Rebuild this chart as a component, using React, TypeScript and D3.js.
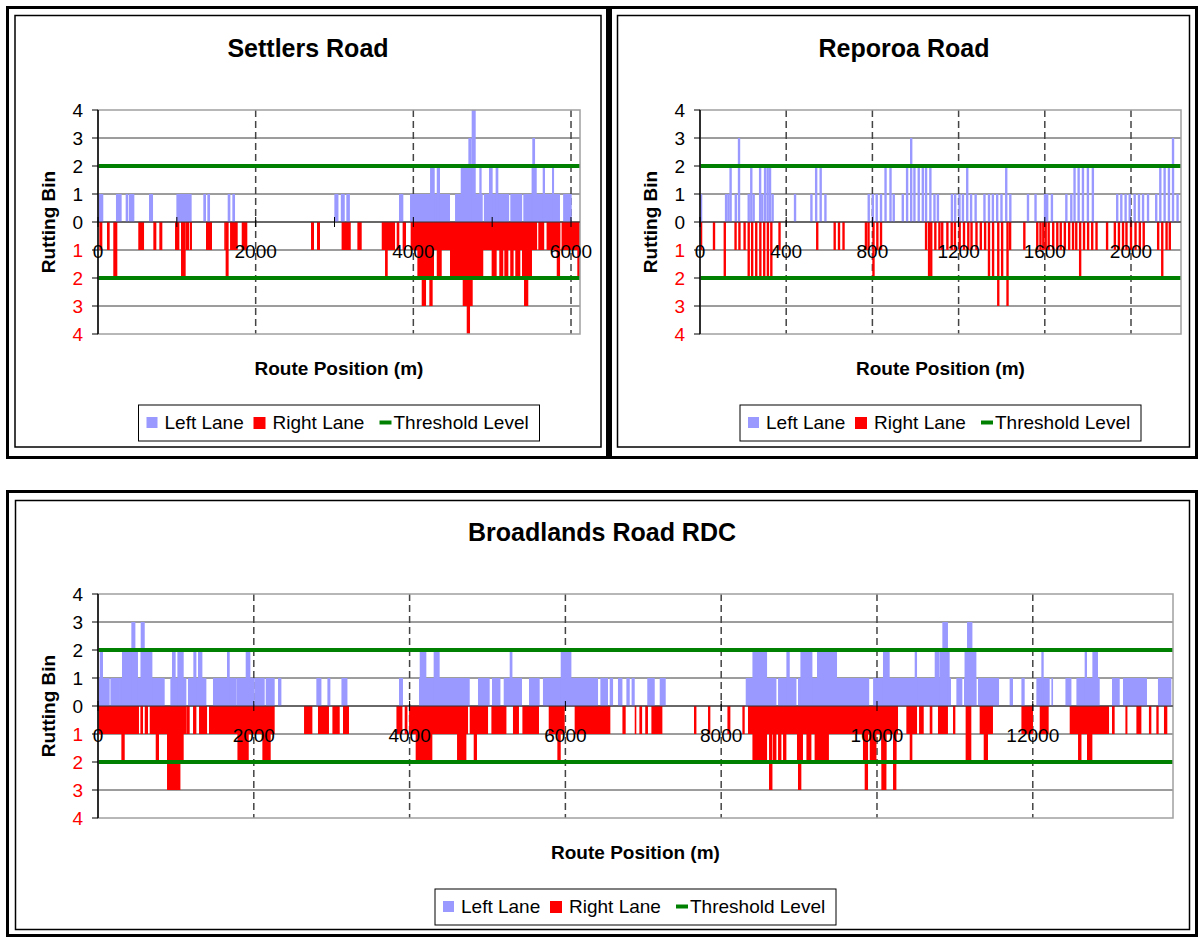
import React from 'react';
import * as d3 from 'd3';

type Run = [number, number, number]; // [from m, to m, rutting bin]
type Bar = [number, number]; // [position m, rutting bin]

// ---------------- Settlers Road ----------------
const settlersLeft: Run[] = [
  [4, 67, 1], [228, 300, 1], [351, 384, 1], [393, 461, 1], [647, 698, 1], [994, 1188, 1],
  [1336, 1370, 1], [1387, 1421, 1], [1645, 1679, 1], [1704, 1738, 1], [2998, 3050, 1],
  [3080, 3130, 1], [3150, 3195, 1], [3818, 3873, 1], [3958, 4465, 1], [4212, 4271, 2],
  [4297, 4338, 2], [4529, 4880, 1], [4895, 5215, 1], [5230, 5380, 1], [5395, 5860, 1],
  [5900, 6009, 1], [4601, 4783, 2], [4698, 4740, 3], [4740, 4791, 4], [4837, 4866, 2],
  [4960, 5006, 2], [5044, 5078, 2], [5500, 5565, 2], [5509, 5544, 3], [5641, 5670, 2],
  [5759, 5785, 2],
];
const settlersRight: Run[] = [
  [17, 55, 1], [114, 148, 1], [194, 245, 2], [511, 584, 1], [702, 740, 1], [778, 816, 1],
  [977, 1032, 1], [1053, 1112, 2], [1112, 1158, 1], [1167, 1192, 1], [1370, 1446, 1],
  [1602, 1619, 1], [1619, 1657, 2], [1675, 1772, 1], [1823, 1894, 1], [2702, 2740, 1],
  [2778, 2816, 1], [3090, 3206, 1], [3290, 3345, 1], [3599, 3768, 1], [3641, 3675, 2],
  [3789, 3822, 1], [3864, 3907, 1], [3966, 5570, 1], [5585, 5660, 1], [5690, 5865, 1],
  [5880, 6114, 1], [4051, 4262, 2], [4297, 4360, 2], [4465, 4887, 2], [4993, 5057, 2],
  [5090, 5141, 2], [5154, 5205, 2], [5229, 5272, 2], [5293, 5357, 2], [5378, 5505, 2],
  [5819, 5861, 2], [6080, 6114, 2], [4106, 4161, 3], [4203, 4245, 3], [4626, 4753, 3],
  [5404, 5458, 3], [4677, 4719, 4],
];

// ---------------- Reporoa Road ----------------
const reporoaLeft: Bar[] = [
  [5, 1], [121, 1], [132, 1], [142, 2], [166, 1], [181, 3], [226, 1], [238, 2], [249, 1],
  [279, 2], [289, 1], [302, 2], [314, 2], [325, 2], [337, 1], [441, 1], [517, 1], [539, 2],
  [560, 2], [582, 1], [783, 1], [802, 1], [820, 1], [840, 1], [861, 2], [884, 2], [899, 1],
  [941, 1], [961, 2], [980, 3], [995, 2], [1015, 2], [1034, 2], [1049, 2], [1069, 2],
  [1088, 1], [1104, 1], [1169, 1], [1184, 1], [1204, 1], [1220, 1], [1240, 2], [1258, 1],
  [1279, 1], [1320, 1], [1341, 1], [1359, 1], [1379, 1], [1399, 1], [1421, 2], [1440, 1],
  [1522, 1], [1557, 1], [1601, 1], [1611, 1], [1633, 1], [1700, 1], [1723, 1], [1738, 2],
  [1757, 2], [1777, 2], [1800, 2], [1823, 2], [1936, 1], [1955, 1], [1975, 1], [1994, 1],
  [2017, 1], [2037, 1], [2056, 1], [2079, 1], [2117, 1], [2136, 2], [2156, 2], [2176, 2],
  [2195, 3], [2216, 1],
];
const reporoaRight: Bar[] = [
  [5, 1], [65, 1], [115, 2], [165, 1], [183, 1], [207, 1], [226, 2], [242, 2], [261, 2],
  [280, 2], [298, 2], [315, 2], [331, 2], [369, 1], [544, 1], [625, 1], [645, 1], [666, 1],
  [770, 1], [782, 1], [805, 2], [823, 1], [840, 1], [1049, 1], [1063, 2], [1073, 2],
  [1092, 1], [1111, 1], [1124, 1], [1148, 1], [1168, 1], [1183, 1], [1205, 1], [1225, 1],
  [1245, 1], [1260, 1], [1283, 1], [1303, 1], [1323, 1], [1341, 2], [1360, 2], [1384, 3],
  [1402, 2], [1427, 3], [1439, 1], [1505, 1], [1565, 1], [1580, 1], [1593, 1], [1604, 1],
  [1618, 1], [1639, 1], [1658, 1], [1674, 1], [1693, 1], [1713, 1], [1731, 1], [1746, 1],
  [1764, 2], [1782, 1], [1801, 1], [1820, 1], [1840, 1], [1889, 1], [1925, 1], [1944, 1],
  [1963, 1], [1979, 1], [2000, 1], [2021, 1], [2041, 1], [2059, 1], [2126, 1], [2145, 2],
  [2165, 1], [2180, 1],
];
const reporoaSpacing = 11; // metres covered by one Reporoa reading

// ---------------- Broadlands Road RDC ----------------
const broadlandsLeft: Run[] = [
  [0, 150, 1], [22, 64, 2], [159, 270, 1], [270, 856, 1], [308, 513, 2], [428, 480, 3],
  [548, 698, 2], [548, 600, 3], [929, 1134, 1], [950, 997, 2], [1019, 1100, 2],
  [1155, 1391, 1], [1224, 1263, 2], [1284, 1340, 2], [1476, 1777, 1], [1656, 1691, 2],
  [1777, 2011, 1], [1896, 1956, 2], [2011, 2140, 1], [2153, 2268, 1], [2311, 2354, 1],
  [2803, 2868, 1], [2945, 2983, 1], [3125, 3202, 1], [3864, 3915, 1], [4121, 4772, 1],
  [4130, 4215, 2], [4309, 4386, 2], [4878, 5028, 1], [5058, 5166, 1], [5208, 5443, 1],
  [5285, 5320, 2], [5533, 5670, 1], [5712, 6419, 1], [5940, 6077, 2], [6449, 6547, 1],
  [6569, 6612, 1], [6675, 6732, 1], [6783, 6826, 1], [6850, 6890, 1], [7051, 7147, 1],
  [7211, 7288, 1], [8315, 8709, 1], [8401, 8589, 2], [8730, 8966, 1], [8837, 8880, 2],
  [8986, 9900, 1], [9950, 10950, 1], [9017, 9171, 2], [9230, 9487, 2], [10077, 10163, 2],
  [10484, 10514, 2], [10741, 10797, 2], [10800, 10933, 2], [10839, 10911, 3],
  [11019, 11096, 1], [11117, 11276, 1], [11124, 11276, 2], [11156, 11225, 3],
  [11297, 11567, 1], [11703, 11746, 1], [11854, 11896, 1], [12046, 12217, 1],
  [12110, 12140, 2], [12239, 12260, 1], [12419, 12496, 1], [12560, 12859, 1],
  [12666, 12696, 2], [12765, 12837, 2], [13017, 13116, 1], [13158, 13466, 1],
  [13607, 13779, 1],
];
const broadlandsRight: Run[] = [
  [0, 526, 1], [300, 343, 2], [544, 578, 1], [600, 642, 1], [664, 1134, 1], [741, 783, 2],
  [886, 1100, 2], [886, 1058, 3], [1134, 1177, 1], [1220, 1263, 1], [1297, 1400, 1],
  [1425, 2268, 1], [1790, 1935, 2], [2110, 2217, 2], [2645, 2752, 1], [2824, 2965, 1],
  [3009, 3103, 1], [3145, 3222, 1], [3831, 3908, 1], [3937, 3972, 1], [3993, 4750, 1],
  [4078, 4292, 2], [4609, 4729, 2], [4772, 5007, 1], [4823, 4865, 2], [5050, 5243, 1],
  [5327, 5404, 1], [5448, 5661, 1], [5786, 5991, 1], [5897, 5940, 2], [6119, 6577, 1],
  [6732, 6774, 1], [6890, 6910, 1], [6950, 6985, 1], [7025, 7060, 1], [7104, 7245, 1],
  [7651, 7682, 1], [7831, 7861, 1], [8080, 8118, 1], [8272, 8302, 1], [8344, 10270, 1],
  [8401, 8589, 2], [8665, 8709, 2], [8730, 8773, 2], [8794, 8837, 2], [8973, 9050, 2],
  [9094, 9158, 2], [9199, 9383, 2], [9820, 9885, 2], [9907, 9993, 2], [10056, 10121, 2],
  [10206, 10249, 2], [8614, 8658, 3], [8986, 9029, 3], [9842, 9885, 3], [10056, 10121, 3],
  [10206, 10249, 3], [10377, 10514, 1], [10420, 10454, 2], [10540, 10600, 1],
  [10677, 10711, 1], [10783, 10911, 1], [10976, 11006, 1], [11138, 11211, 2],
  [11318, 11489, 1], [11370, 11425, 2], [11854, 12003, 1], [12089, 12204, 1],
  [12474, 12979, 1], [12581, 12625, 2], [12696, 12765, 2], [13017, 13051, 1],
  [13189, 13215, 1], [13330, 13394, 1], [13491, 13522, 1], [13586, 13616, 1],
  [13684, 13727, 1],
];

const binTicks = [-4, -3, -2, -1, 0, 1, 2, 3, 4];
const thresholdLevel = 2;
const legendLabels = ['Left Lane', 'Right Lane', 'Threshold Level'];

const FONT = '"Liberation Sans", Arial, Helvetica, sans-serif';
const LEFT_COLOR = '#9999FF';
const RIGHT_COLOR = '#FF0000';
const THRESH_COLOR = '#008000';

const barsToRuns = (bars: Bar[], w: number): Run[] =>
  bars.map(([p, v]) => [p - w / 2, p + w / 2, v] as Run);

interface ChartProps {
  title: string;
  titleX: number;
  left: number;
  top: number;
  width: number;
  height: number;
  xMax: number;
  gridStep: number;
  tickStep: number;
  leftRuns: Run[];
  rightRuns: Run[];
}

function Chart(p: ChartProps) {
  const { left, top, width, height } = p;
  const x = d3.scaleLinear().domain([0, p.xMax]).range([left, left + width]);
  const y = d3.scaleLinear().domain([-4, 4]).range([top + height, top]);
  const grid = d3.range(0, p.xMax + 1, p.gridStep);
  const ticks = d3.range(0, p.xMax + 1, p.tickStep);
  const cx = left + width / 2;
  const y0 = y(0);
  const sortRuns = (r: Run[]) => [...r].sort((a, b) => a[2] - b[2]);
  const legendX = cx - 200.5;
  const legendY = top + 295;

  return (
    <g fontFamily={FONT}>
      <text x={p.titleX} y={top - 53} textAnchor="middle" fontSize={25} fontWeight="bold">
        {p.title}
      </text>
      {binTicks
        .filter((v) => Math.abs(v) !== 4)
        .map((v) => (
          <line key={'h' + v} x1={left} x2={left + width} y1={y(v)} y2={y(v)} stroke="#3a3a3a" strokeWidth={1} />
        ))}
      {grid
        .filter((g) => g > 0)
        .map((g) => (
          <line key={'g' + g} x1={x(g)} x2={x(g)} y1={top} y2={top + height} stroke="#444" strokeWidth={1.5} strokeDasharray="7,4" />
        ))}
      {sortRuns(p.leftRuns).map((r, i) => (
        <rect key={'l' + i} x={x(r[0])} width={Math.max(x(r[1]) - x(r[0]), 1.6)} y={y(r[2])} height={y0 - y(r[2])} fill={LEFT_COLOR} />
      ))}
      {sortRuns(p.rightRuns).map((r, i) => (
        <rect key={'r' + i} x={x(r[0])} width={Math.max(x(r[1]) - x(r[0]), 1.6)} y={y0} height={y(-r[2]) - y0} fill={RIGHT_COLOR} />
      ))}
      {[thresholdLevel, -thresholdLevel].map((t) => (
        <line key={'t' + t} x1={left} x2={left + width} y1={y(t)} y2={y(t)} stroke={THRESH_COLOR} strokeWidth={4} />
      ))}
      <rect x={left} y={top} width={width} height={height} fill="none" stroke="#a0a0a0" strokeWidth={1.5} />
      <line x1={left} x2={left + width} y1={y0} y2={y0} stroke="#333" strokeWidth={1} />
      {ticks.map((t) => (
        <line key={'xt' + t} x1={x(t)} x2={x(t)} y1={y0 - 5} y2={y0 + 5} stroke="#000" strokeWidth={1} />
      ))}
      <line x1={left} x2={left} y1={top} y2={top + height} stroke="#000" strokeWidth={1.5} />
      {binTicks.map((v) => (
        <g key={'y' + v}>
          <line x1={left - 6} x2={left} y1={y(v)} y2={y(v)} stroke="#000" strokeWidth={1} />
          <text x={left - 15} y={y(v) + 7} textAnchor="end" fontSize={19} fill={v < 0 ? '#FF0000' : '#000'}>
            {Math.abs(v)}
          </text>
        </g>
      ))}
      {grid.map((g) => (
        <text key={'xl' + g} x={x(g)} y={y0 + 36} textAnchor="middle" fontSize={19}>
          {g}
        </text>
      ))}
      <text transform={`translate(${left - 43},${top + height / 2}) rotate(-90)`} textAnchor="middle" fontSize={19} fontWeight="bold">
        Rutting Bin
      </text>
      <text x={cx} y={top + 265} textAnchor="middle" fontSize={19} fontWeight="bold">
        Route Position (m)
      </text>
      <g transform={`translate(${legendX},${legendY})`}>
        <rect x={0} y={0} width={401} height={36} fill="#fff" stroke="#000" strokeWidth={1} />
        <rect x={8} y={12} width={11} height={11} fill={LEFT_COLOR} />
        <text x={26} y={24} fontSize={19}>{legendLabels[0]}</text>
        <rect x={115} y={12} width={12} height={12} fill={RIGHT_COLOR} />
        <text x={134} y={24} fontSize={19}>{legendLabels[1]}</text>
        <line x1={241} x2={253} y1={17.5} y2={17.5} stroke={THRESH_COLOR} strokeWidth={4} />
        <text x={255} y={24} fontSize={19}>{legendLabels[2]}</text>
      </g>
    </g>
  );
}

export default function App() {
  return (
    <svg width={1198} height={937} style={{ position: 'absolute', left: 0, top: 0, background: '#fff' }}>
      <rect x={0} y={0} width={1198} height={937} fill="#fff" />
      <rect x={7.5} y={7.5} width={600} height={450} fill="none" stroke="#000" strokeWidth={3} />
      <rect x={15} y={15.5} width={586} height={431.5} fill="none" stroke="#000" strokeWidth={1.5} />
      <rect x={610.5} y={7.5} width={586} height={450} fill="none" stroke="#000" strokeWidth={3} />
      <rect x={617.5} y={15.5} width={572} height={431.5} fill="none" stroke="#000" strokeWidth={1.5} />
      <rect x={7.5} y={491.5} width={1189} height={444} fill="none" stroke="#000" strokeWidth={3} />
      <rect x={15.5} y={500.5} width={1174} height={429} fill="none" stroke="#000" strokeWidth={1.5} />

      <Chart title="Settlers Road" titleX={308} left={98} top={110} width={482} height={224}
        xMax={6114} gridStep={2000} tickStep={1000} leftRuns={settlersLeft} rightRuns={settlersRight} />
      <Chart title="Reporoa Road" titleX={904} left={700} top={110} width={481} height={224}
        xMax={2232} gridStep={400} tickStep={400}
        leftRuns={barsToRuns(reporoaLeft, reporoaSpacing)} rightRuns={barsToRuns(reporoaRight, reporoaSpacing)} />
      <Chart title="Broadlands Road RDC" titleX={602} left={98} top={594} width={1075} height={224}
        xMax={13800} gridStep={2000} tickStep={2000} leftRuns={broadlandsLeft} rightRuns={broadlandsRight} />
    </svg>
  );
}
